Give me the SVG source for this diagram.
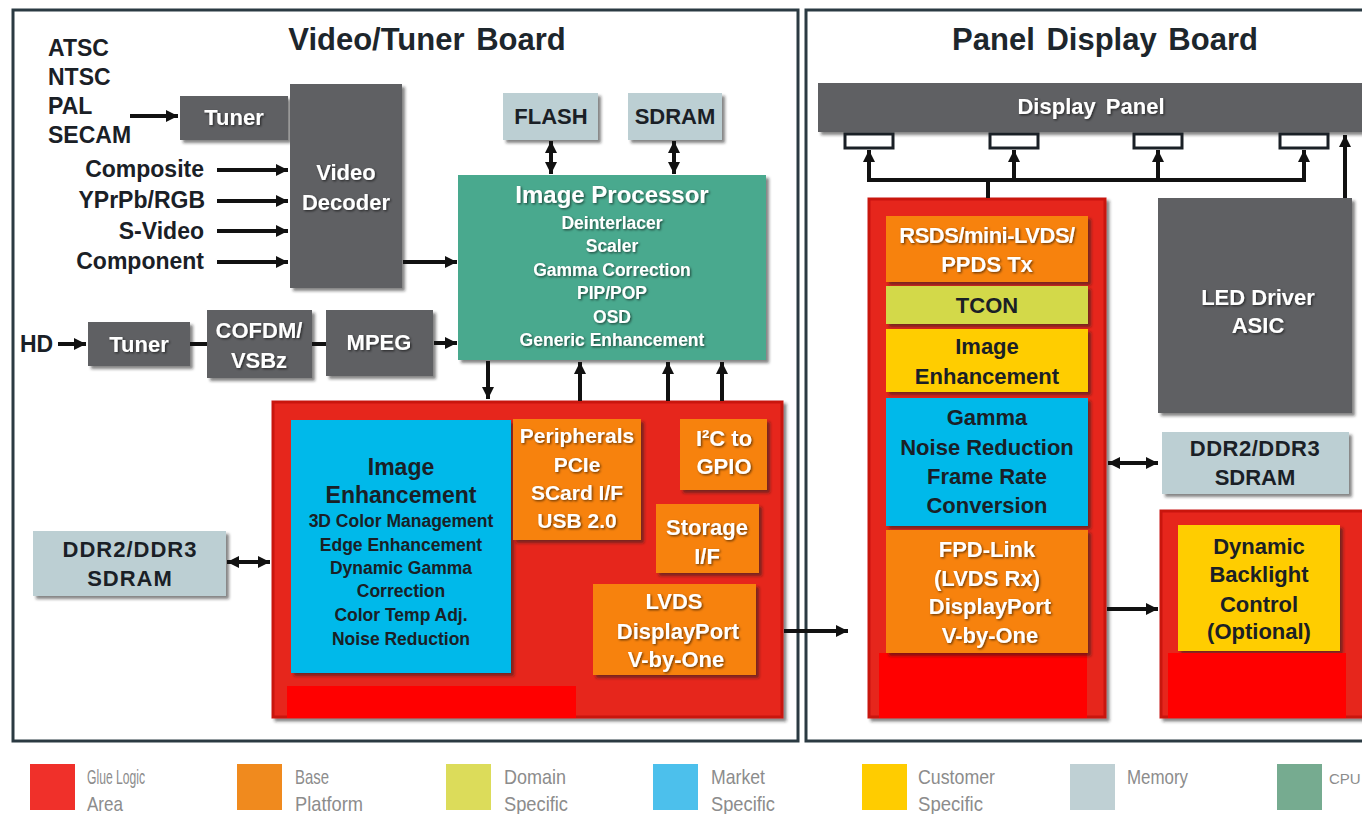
<svg xmlns="http://www.w3.org/2000/svg" width="1362" height="814" viewBox="0 0 1362 814">
<defs>
<style>
text{font-family:"Liberation Sans",Arial,sans-serif;font-weight:bold;text-anchor:middle}
.frame{fill:none;stroke:#2b3a42;stroke-width:3}
.title{font-size:31px;fill:#1d262c;word-spacing:3px}
.gray{fill:#5e6063}
.mem{fill:#bccfd3}
.cpu{fill:#4aa98e}
.glue{fill:#e6251e;stroke:#c9160f;stroke-width:3}
.base{fill:#f7820b}
.mkt{fill:#00b9ea}
.dom{fill:#d3d94a}
.cust{fill:#ffcd00}
.mask{fill:#ff0000}
.w{fill:#ffffff;font-size:22px}
.d{fill:#1a2026;font-size:22px}
.s{font-size:17.5px}
.lbl{fill:#1a2026;font-size:23px}
.con{fill:#ffffff;stroke:#1a2026;stroke-width:3}
.ln{fill:none;stroke:#111;stroke-width:4}
.leg{font-family:"Liberation Sans Narrow","Liberation Sans",sans-serif;font-weight:normal;font-size:21px;fill:#8c8c8c;text-anchor:start}
</style>
<filter id="sh" x="-10%" y="-10%" width="130%" height="130%">
<feDropShadow dx="3" dy="3" stdDeviation="1.5" flood-color="#222" flood-opacity="0.55"/>
</filter>
<filter id="ts" x="-10%" y="-20%" width="130%" height="150%">
<feDropShadow dx="1.2" dy="1.2" stdDeviation="0.8" flood-color="#000" flood-opacity="0.6"/>
</filter>
<marker id="ah" markerUnits="userSpaceOnUse" markerWidth="14" markerHeight="14" refX="12" refY="6" orient="auto-start-reverse">
<path d="M0,0 L12,6 L0,12 z" fill="#111"/>
</marker>
</defs>
<rect width="1362" height="814" fill="#ffffff"/>

<g id="boards">
<rect class="frame" x="13" y="10" width="785" height="731"/>
<rect class="frame" x="806" y="10" width="570" height="731"/>
<text class="title" x="427" y="50">Video/Tuner Board</text>
<text class="title" x="1105" y="50">Panel Display Board</text>
</g>

<g id="inputs">
<text class="lbl" x="48" y="56" style="text-anchor:start">ATSC</text>
<text class="lbl" x="48" y="85" style="text-anchor:start">NTSC</text>
<text class="lbl" x="48" y="114" style="text-anchor:start">PAL</text>
<text class="lbl" x="48" y="143" style="text-anchor:start">SECAM</text>
<text class="lbl" x="204" y="177" style="text-anchor:end">Composite</text>
<text class="lbl" x="205" y="208" style="text-anchor:end">YPrPb/RGB</text>
<text class="lbl" x="204" y="239" style="text-anchor:end">S-Video</text>
<text class="lbl" x="204" y="269" style="text-anchor:end">Component</text>
<text class="lbl" x="20" y="352" style="text-anchor:start">HD</text>
</g>

<g id="tuner1"><rect class="gray" filter="url(#sh)" x="180" y="96" width="108" height="44"/><text class="w" filter="url(#ts)" x="234" y="125">Tuner</text></g>
<g id="video-decoder"><rect class="gray" filter="url(#sh)" x="290" y="84" width="112" height="204"/><text class="w" filter="url(#ts)" x="346" y="180">Video</text><text class="w" filter="url(#ts)" x="346" y="210">Decoder</text></g>
<g id="tuner2"><rect class="gray" filter="url(#sh)" x="88" y="322" width="102" height="44"/><text class="w" filter="url(#ts)" x="139" y="352">Tuner</text></g>
<g id="cofdm"><rect class="gray" filter="url(#sh)" x="207" y="310" width="105" height="68"/><text class="w" filter="url(#ts)" x="259" y="338">COFDM/</text><text class="w" filter="url(#ts)" x="259" y="368">VSBz</text></g>
<g id="mpeg"><rect class="gray" filter="url(#sh)" x="326" y="310" width="107" height="66"/><text class="w" filter="url(#ts)" x="379" y="350">MPEG</text></g>

<g id="flash"><rect class="mem" filter="url(#sh)" x="503" y="93" width="95" height="47"/><text class="d" x="551" y="124">FLASH</text></g>
<g id="sdram-top"><rect class="mem" filter="url(#sh)" x="628" y="93" width="94" height="47"/><text class="d" x="675" y="124">SDRAM</text></g>

<g id="image-processor">
<rect class="cpu" filter="url(#sh)" x="458" y="175" width="308" height="185"/>
<text class="w" filter="url(#ts)" x="612" y="203" style="font-size:24px">Image Processor</text>
<g filter="url(#ts)">
<text x="612" y="229" class="w s">Deinterlacer</text>
<text x="612" y="252" class="w s">Scaler</text>
<text x="612" y="276" class="w s">Gamma Correction</text>
<text x="612" y="299" class="w s">PIP/POP</text>
<text x="612" y="323" class="w s">OSD</text>
<text x="612" y="346" class="w s">Generic Enhancement</text>
</g>
</g>

<g id="glue-soc">
<rect class="glue" filter="url(#sh)" x="273" y="402" width="509" height="315"/>
<rect class="mask" x="287" y="686" width="289" height="32"/>
</g>
<g id="image-enhancement">
<rect class="mkt" filter="url(#sh)" x="291" y="420" width="220" height="253"/>
<text class="d" x="401" y="475" style="font-size:23px">Image</text>
<text class="d" x="401" y="503" style="font-size:23px">Enhancement</text>
<text class="d s" x="401" y="527">3D Color Management</text>
<text class="d s" x="401" y="551">Edge Enhancement</text>
<text class="d s" x="401" y="574">Dynamic Gamma</text>
<text class="d s" x="401" y="597">Correction</text>
<text class="d s" x="401" y="621">Color Temp Adj.</text>
<text class="d s" x="401" y="645">Noise Reduction</text>
</g>
<g id="peripherals"><rect class="base" filter="url(#sh)" x="513" y="419" width="128" height="121"/>
<text class="w" filter="url(#ts)" x="577" y="443" style="font-size:21px">Peripherals</text>
<text class="w" filter="url(#ts)" x="577" y="472" style="font-size:21px">PCIe</text>
<text class="w" filter="url(#ts)" x="577" y="500" style="font-size:21px">SCard I/F</text>
<text class="w" filter="url(#ts)" x="577" y="528" style="font-size:21px">USB 2.0</text>
</g>
<g id="i2c"><rect class="base" filter="url(#sh)" x="680" y="419" width="87" height="71"/>
<text class="w" filter="url(#ts)" x="724" y="446">I²C to</text>
<text class="w" filter="url(#ts)" x="724" y="474">GPIO</text>
</g>
<g id="storage"><rect class="base" filter="url(#sh)" x="656" y="504" width="103" height="69"/>
<text class="w" filter="url(#ts)" x="707" y="535">Storage</text>
<text class="w" filter="url(#ts)" x="707" y="564">I/F</text>
</g>
<g id="lvds-tx"><rect class="base" filter="url(#sh)" x="593" y="584" width="163" height="91"/>
<text class="w" filter="url(#ts)" x="674" y="609">LVDS</text>
<text class="w" filter="url(#ts)" x="678" y="639">DisplayPort</text>
<text class="w" filter="url(#ts)" x="676" y="667">V-by-One</text>
</g>
<g id="ddr-left"><rect class="mem" filter="url(#sh)" x="33" y="531" width="193" height="65"/>
<text class="d" x="130" y="557" style="letter-spacing:1px">DDR2/DDR3</text>
<text class="d" x="130" y="586" style="letter-spacing:1px">SDRAM</text>
</g>

<g id="display-panel"><rect class="gray" filter="url(#sh)" x="818" y="83" width="560" height="49"/>
<text class="w" filter="url(#ts)" x="1091" y="114" style="word-spacing:4px">Display Panel</text>
<rect class="con" x="845" y="134" width="48" height="14"/>
<rect class="con" x="990" y="134" width="48" height="14"/>
<rect class="con" x="1134" y="134" width="48" height="14"/>
<rect class="con" x="1280" y="134" width="48" height="14"/>
</g>

<g id="tcon-chip">
<rect class="glue" filter="url(#sh)" x="869" y="199" width="236" height="518"/>
<rect class="mask" x="879" y="653" width="208" height="65"/>
</g>
<g id="rsds"><rect class="base" filter="url(#sh)" x="886" y="216" width="202" height="66"/>
<text class="w" filter="url(#ts)" x="987" y="243" style="letter-spacing:-0.5px">RSDS/mini-LVDS/</text>
<text class="w" filter="url(#ts)" x="987" y="272">PPDS Tx</text>
</g>
<g id="tcon"><rect class="dom" filter="url(#sh)" x="886" y="286" width="202" height="38"/>
<text class="d" x="987" y="313">TCON</text></g>
<g id="image-enh-r"><rect class="cust" filter="url(#sh)" x="886" y="329" width="202" height="63"/>
<text class="d" x="987" y="354">Image</text>
<text class="d" x="987" y="384">Enhancement</text></g>
<g id="gamma"><rect class="mkt" filter="url(#sh)" x="886" y="398" width="202" height="128"/>
<text class="d" x="987" y="425">Gamma</text>
<text class="d" x="987" y="455">Noise Reduction</text>
<text class="d" x="987" y="484">Frame Rate</text>
<text class="d" x="987" y="513">Conversion</text></g>
<g id="fpd-link"><rect class="base" filter="url(#sh)" x="886" y="530" width="202" height="123"/>
<text class="w" filter="url(#ts)" x="987" y="557">FPD-Link</text>
<text class="w" filter="url(#ts)" x="987" y="586">(LVDS Rx)</text>
<text class="w" filter="url(#ts)" x="990" y="614">DisplayPort</text>
<text class="w" filter="url(#ts)" x="990" y="643">V-by-One</text></g>

<g id="led-driver"><rect class="gray" filter="url(#sh)" x="1158" y="198" width="194" height="215"/>
<text class="w" filter="url(#ts)" x="1258" y="305">LED Driver</text>
<text class="w" filter="url(#ts)" x="1258" y="333">ASIC</text></g>
<g id="ddr-right"><rect class="mem" filter="url(#sh)" x="1162" y="432" width="187" height="62"/>
<text class="d" x="1255" y="456" style="letter-spacing:0.5px">DDR2/DDR3</text>
<text class="d" x="1255" y="485">SDRAM</text></g>
<g id="backlight">
<rect class="glue" filter="url(#sh)" x="1161" y="511" width="205" height="206"/>
<rect class="cust" filter="url(#sh)" x="1178" y="525" width="162" height="126"/>
<rect class="mask" x="1168" y="653" width="178" height="65"/>
<text class="d" x="1259" y="554">Dynamic</text>
<text class="d" x="1259" y="582">Backlight</text>
<text class="d" x="1259" y="612">Control</text>
<text class="d" x="1259" y="639">(Optional)</text>
</g>

<g id="connectors">
<line class="ln" x1="130" y1="116" x2="178" y2="116" marker-end="url(#ah)"/>
<line class="ln" x1="217" y1="170" x2="288" y2="170" marker-end="url(#ah)"/>
<line class="ln" x1="217" y1="201" x2="288" y2="201" marker-end="url(#ah)"/>
<line class="ln" x1="217" y1="231" x2="288" y2="231" marker-end="url(#ah)"/>
<line class="ln" x1="217" y1="262" x2="288" y2="262" marker-end="url(#ah)"/>
<line class="ln" x1="403" y1="262" x2="457" y2="262" marker-end="url(#ah)"/>
<line class="ln" x1="58" y1="344" x2="86" y2="344" marker-end="url(#ah)"/>
<line class="ln" x1="190" y1="344" x2="207" y2="344"/>
<line class="ln" x1="312" y1="344" x2="326" y2="344"/>
<line class="ln" x1="434" y1="343" x2="457" y2="343" marker-end="url(#ah)"/>
<line class="ln" x1="551" y1="141" x2="551" y2="174" marker-start="url(#ah)" marker-end="url(#ah)"/>
<line class="ln" x1="674" y1="141" x2="674" y2="174" marker-start="url(#ah)" marker-end="url(#ah)"/>
<line class="ln" x1="488" y1="361" x2="488" y2="399" marker-end="url(#ah)"/>
<line class="ln" x1="580" y1="401" x2="580" y2="362" marker-end="url(#ah)"/>
<line class="ln" x1="668" y1="401" x2="668" y2="362" marker-end="url(#ah)"/>
<line class="ln" x1="722" y1="401" x2="722" y2="362" marker-end="url(#ah)"/>
<line class="ln" x1="227" y1="562" x2="270" y2="562" marker-start="url(#ah)" marker-end="url(#ah)"/>
<line class="ln" x1="784" y1="631" x2="848" y2="631" marker-end="url(#ah)"/>
<line class="ln" x1="988" y1="198" x2="988" y2="180"/>
<path class="ln" d="M869,150 V180 H1304 V150" marker-start="url(#ah)" marker-end="url(#ah)"/>
<line class="ln" x1="1014" y1="180" x2="1014" y2="150" marker-end="url(#ah)"/>
<line class="ln" x1="1158" y1="180" x2="1158" y2="150" marker-end="url(#ah)"/>
<line class="ln" x1="1345" y1="198" x2="1345" y2="135" marker-end="url(#ah)"/>
<line class="ln" x1="1108" y1="463" x2="1158" y2="463" marker-start="url(#ah)" marker-end="url(#ah)"/>
<line class="ln" x1="1107" y1="609" x2="1158" y2="609" marker-end="url(#ah)"/>
</g>

<g id="legend">
<rect x="30" y="764" width="45" height="46" fill="#f0302a"/>
<text class="leg" x="87" y="784" textLength="58" lengthAdjust="spacingAndGlyphs">Glue Logic</text>
<text class="leg" x="87" y="811" textLength="36" lengthAdjust="spacingAndGlyphs">Area</text>
<rect x="237" y="764" width="45" height="46" fill="#f08a1e"/>
<text class="leg" x="295" y="784" textLength="34" lengthAdjust="spacingAndGlyphs">Base</text>
<text class="leg" x="295" y="811" textLength="68" lengthAdjust="spacingAndGlyphs">Platform</text>
<rect x="446" y="764" width="45" height="46" fill="#dcdc5a"/>
<text class="leg" x="504" y="784" textLength="62" lengthAdjust="spacingAndGlyphs">Domain</text>
<text class="leg" x="504" y="811" textLength="64" lengthAdjust="spacingAndGlyphs">Specific</text>
<rect x="653" y="764" width="45" height="46" fill="#4cc0ec"/>
<text class="leg" x="711" y="784" textLength="54" lengthAdjust="spacingAndGlyphs">Market</text>
<text class="leg" x="711" y="811" textLength="64" lengthAdjust="spacingAndGlyphs">Specific</text>
<rect x="862" y="764" width="45" height="46" fill="#ffcc00"/>
<text class="leg" x="918" y="784" textLength="77" lengthAdjust="spacingAndGlyphs">Customer</text>
<text class="leg" x="918" y="811" textLength="65" lengthAdjust="spacingAndGlyphs">Specific</text>
<rect x="1070" y="764" width="45" height="46" fill="#bfd0d4"/>
<text class="leg" x="1127" y="784" textLength="61" lengthAdjust="spacingAndGlyphs">Memory</text>
<rect x="1277" y="764" width="45" height="46" fill="#76ab90"/>
<text class="leg" x="1329" y="784" style="font-size:15px">CPU</text>
</g>
</svg>
